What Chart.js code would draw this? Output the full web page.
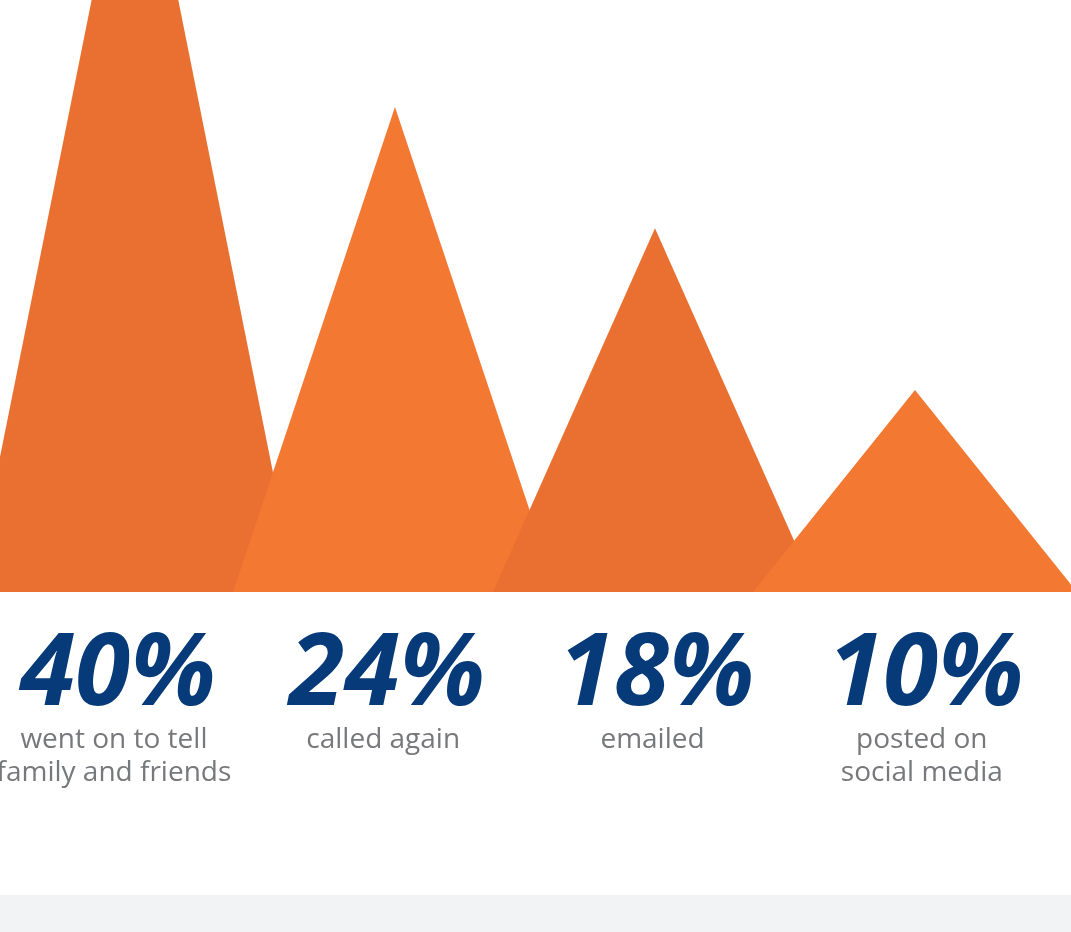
<!DOCTYPE html>
<html>
<head>
<meta charset="utf-8">
<script src="https://cdn.jsdelivr.net/npm/chart.js@4/dist/chart.umd.min.js"></script>
<style>
html,body{margin:0;padding:0;background:#f2f3f5;}
#wrap{width:1071px;height:895px;background:#fff;}
</style>
</head>
<body>
<div id="wrap"><canvas id="chart" width="1071" height="895"></canvas></div>
<script>
const values = [40, 24, 18, 10];
const descriptions = [
  ["went on to tell", "family and friends"],
  ["called again"],
  ["emailed"],
  ["posted on", "social media"]
];
const colors = ["#e97030", "#f37832", "#e97030", "#f37832"];

/* half width of each peak, in category units */
const halfWidth = 0.623;

const datasets = values.map((v,i)=>({
  data:[{x:i-halfWidth,y:0},{x:i,y:v},{x:i+halfWidth,y:0}],
  showLine:true,
  fill:"origin",
  backgroundColor:colors[i],
  borderWidth:0,
  pointRadius:0,
  tension:0,
  order:values.length-i
}));

/* big percent + caption under each peak */
const peakLabels = {
  id:"peakLabels",
  afterDraw(chart){
    const ctx = chart.ctx;
    const xs = chart.scales.labelX;
    const base = chart.scales.y.getPixelForValue(0);
    ctx.save();
    ctx.textAlign = "center";
    ctx.textBaseline = "alphabetic";
    values.forEach((v,i)=>{
      const x = xs.getPixelForValue(i);
      ctx.fillStyle = "#063a79";
      ctx.font = "italic bold 100px 'Open Sans'";
      ctx.fillText(v+"%", x+4, base+113);
      ctx.fillStyle = "#77787b";
      ctx.font = "28px 'Open Sans'";
      descriptions[i].forEach((line,j)=>{
        ctx.fillText(line, x, base+156+j*33);
      });
    });
    ctx.restore();
  }
};

new Chart(document.getElementById("chart"),{
  type:"scatter",
  data:{datasets},
  options:{
    responsive:false,
    animation:false,
    devicePixelRatio:1,
    layout:{padding:{top:0,left:0,right:0,bottom:303}},
    plugins:{legend:{display:false},tooltip:{enabled:false}},
    scales:{
      x:{type:"linear",display:false,min:-0.519,max:3.6},
      labelX:{type:"linear",axis:"x",display:false,min:-0.423,max:3.554},
      y:{display:false,min:0,max:29.3}
    }
  },
  plugins:[peakLabels]
});
</script>
</body>
</html>
